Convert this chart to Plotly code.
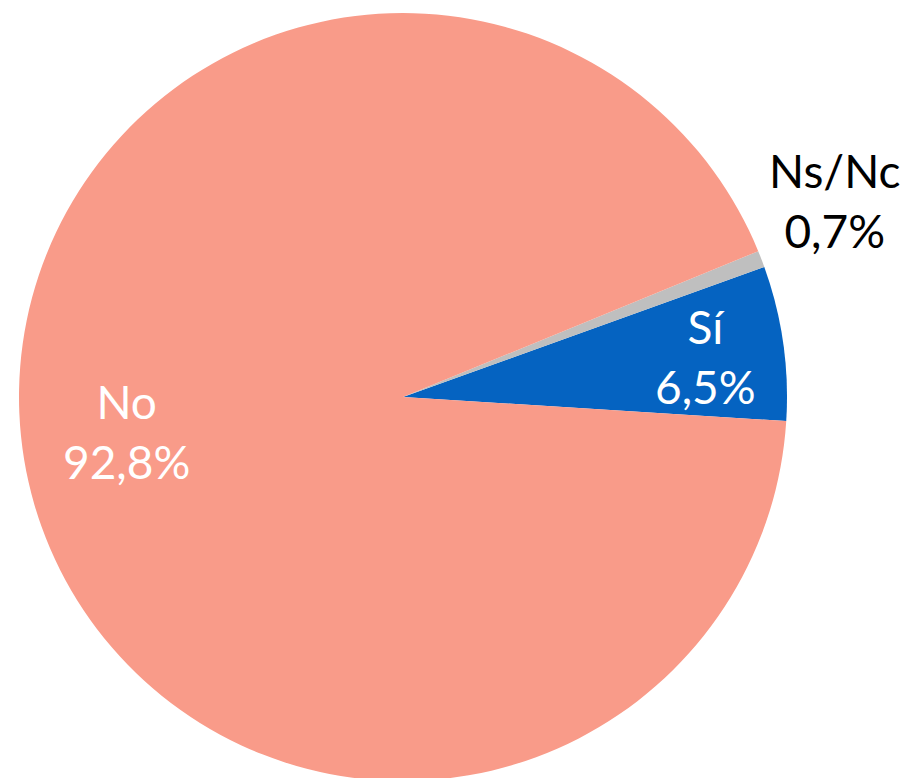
import plotly.graph_objects as go

labels = ["Sí", "Ns/Nc", "No"]
values = [6.5, 0.7, 92.8]
value_text = ["6,5%", "0,7%", "92,8%"]
colors = ["#0563C1", "#BFBFBF", "#F99B89"]
text_colors = ["white", "black", "white"]
# label block centres, in pixels of the page (page has an 8px body margin)
label_px = [(705, 357), (835, 200), (126, 432)]
OFF = 8

W, H = 913, 778

fig = go.Figure(go.Pie(
    labels=labels,
    values=values,
    textinfo="none",
    marker=dict(colors=colors, line=dict(width=0)),
    sort=False,
    direction="counterclockwise",
    rotation=70.2,
    showlegend=False,
    domain=dict(x=[(19 - OFF) / W, (787 - OFF) / W], y=[0, 1]),
    hoverinfo="skip",
))

for lab, txt, col, (px, py) in zip(labels, value_text, text_colors, label_px):
    fig.add_annotation(
        x=(px - OFF) / W, y=1 - (py - OFF) / H, xref="paper", yref="paper",
        text=f"{lab}<br>{txt}", showarrow=False,
        xanchor="center", yanchor="middle", align="center",
        font=dict(family="Lato", size=46, color=col),
    )

fig.update_layout(
    width=W, height=H,
    margin=dict(l=0, r=0, t=0, b=0),
    paper_bgcolor="white",
    plot_bgcolor="white",
)

fig.write_html("out.html")
